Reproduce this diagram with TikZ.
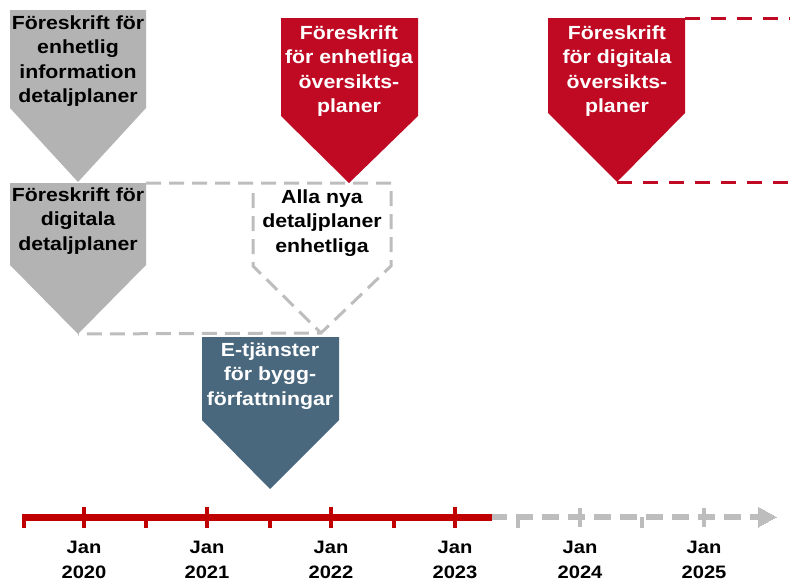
\documentclass[tikz,border=0pt]{standalone}
\usepackage{fontspec}
\setmainfont[FakeStretch=1.12]{Liberation Sans}
\usetikzlibrary{arrows.meta}
\definecolor{boxgray}{HTML}{B3B3B3}
\definecolor{boxred}{HTML}{C00A23}
\definecolor{boxblue}{HTML}{49687E}
\definecolor{linered}{HTML}{C00000}
\definecolor{dashgray}{HTML}{BDBDBD}
\tikzset{
  lbl/.style={align=center, font=\fontsize{19}{24.5}\selectfont\bfseries, inner sep=0pt},
  grayfill/.style={fill=boxgray, draw=none},
  redfill/.style={fill=boxred, draw=none},
  bluefill/.style={fill=boxblue, draw=none},
  graydash/.style={draw=dashgray, line width=3pt, dash pattern=on 15pt off 8pt},
  reddash/.style={draw=boxred, line width=3pt, dash pattern=on 15pt off 11pt},
  yearlbl/.style={align=center, font=\fontsize{18}{25}\selectfont\bfseries, inner sep=0pt},
  majtick/.style={line width=4pt},
  mintick/.style={line width=4pt},
}
\begin{document}
\begin{tikzpicture}[x=1pt,y=-1pt]
\useasboundingbox (0,0) rectangle (790,581);
% shapes
\path[grayfill] (10,10) -- (146,10) -- (146,108) -- (78,182) -- (10,108) -- cycle;
\path[grayfill] (10,183) -- (146,183) -- (146,265) -- (78,334) -- (10,265) -- cycle;
\path[redfill] (281,18) -- (418,18) -- (418,116) -- (349,183) -- (281,116) -- cycle;
\path[redfill] (548,18) -- (685,18) -- (685,113) -- (617,182) -- (548,113) -- cycle;
\path[bluefill] (202,337) -- (339,337) -- (339,420) -- (270,489) -- (202,420) -- cycle;
% named anchor points
\coordinate (g2tr) at (146,183);
\coordinate (g2tip) at (78,334);
\coordinate (ptr) at (391,183);
\coordinate (ptl) at (253,183);
\coordinate (prb) at (391,266);
\coordinate (plb) at (253,266);
\coordinate (ptip) at (321,333);
\coordinate (r2tr) at (685,18);
\coordinate (r2tip) at (617,182);
\coordinate (rtend) at (790,18);
\coordinate (rbend) at (790,182);
% dashed outlines
\draw[graydash] (g2tr) -- (ptr) -- (prb) -- (ptip) -- (g2tip);
\draw[graydash] (ptl) ++(0,10) -- (plb) -- (ptip);
\draw[reddash] (r2tr) -- (rtend);
\draw[reddash] (r2tip) -- (rbend);
% texts
\node[lbl] (t1) at (78,61) {Föreskrift för\\enhetlig\\information\\detaljplaner};
\node[lbl] (t2) at (78,221) {Föreskrift för\\digitala\\detaljplaner};
\node[lbl] (t3) at (322,223) {Alla nya\\detaljplaner\\enhetliga};
\node[lbl,text=white] (t4) at (349,71) {Föreskrift\\för enhetliga\\översikts-\\planer};
\node[lbl,text=white] (t5) at (617,71) {Föreskrift\\för digitala\\översikts-\\planer};
\node[lbl,text=white] (t6) at (270,376) {E-tjänster\\för bygg-\\författningar};
% timeline
\coordinate (tlstart) at (22,517);
\coordinate (tlred) at (492,517);
\coordinate (tlend) at (776,517);
\draw[draw=dashgray, line width=6pt, dash pattern=on 17pt off 9pt] (tlstart) -- (762,517);
\draw[draw=dashgray, line width=0pt, fill=dashgray] (758,507) -- (776,517) -- (758,527) -- cycle;
\draw[draw=linered, line width=7pt] (tlstart) -- (tlred);
\foreach \x in {84,207,331,455} \draw[linered, majtick] (\x,507) -- (\x,528);
\foreach \x in {24,146,270,394} \draw[linered, mintick] (\x,517) -- (\x,528);
\foreach \x in {580,704} \draw[dashgray, majtick] (\x,508) -- (\x,527);
\foreach \x in {518,642} \draw[dashgray, mintick] (\x,517) -- (\x,528);
\foreach \x/\y/\n in {84/2020/a,207/2021/b,331/2022/c,455/2023/d,580/2024/e,704/2025/f}
  \node[yearlbl] (y\n) at (\x,560) {Jan\\\y};
\end{tikzpicture}
\end{document}
